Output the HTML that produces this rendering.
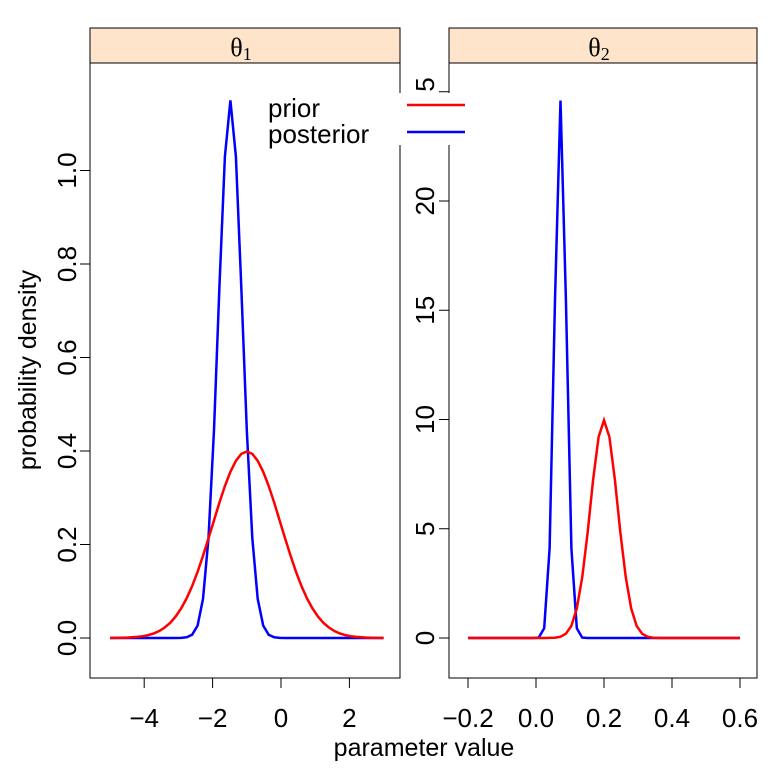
<!DOCTYPE html>
<html><head><meta charset="utf-8"><style>
body{margin:0;background:#fff}
svg{display:block;font-family:"Liberation Sans",sans-serif}
</style></head><body>
<svg id="chart" width="777" height="778" viewBox="0 0 777 778"></svg>
<script>
const leftX = [-5, 3];
const leftPrior = [0.0001,0.0003,0.0005,0.0008,0.0014,0.0024,0.0039,0.0063,0.0099,0.0150,0.0224,0.0325,0.0459,0.0632,0.0848,0.1109,0.1415,0.1758,0.2131,0.2516,0.2897,0.3251,0.3555,0.3790,0.3939,0.3989,0.3939,0.3790,0.3555,0.3251,0.2897,0.2516,0.2131,0.1758,0.1415,0.1109,0.0848,0.0632,0.0459,0.0325,0.0224,0.0150,0.0099,0.0063,0.0039,0.0024,0.0014,0.0008,0.0005,0.0003,0.0001];
const leftPost = [0,0,0,0,0,0,0,0,0,0,0,0,0,0.0002,0.0014,0.0068,0.0265,0.0836,0.214,0.445,0.750,1.03,1.15,1.03,0.750,0.445,0.214,0.0836,0.0265,0.0068,0.0014,0.0002,0,0,0,0,0,0,0,0,0,0,0,0,0,0,0,0,0,0,0];
const rightX = [-0.2, 0.6];
const rightPrior = [0,0,0,0,0,0,0,0,0,0,0,0,0,0,0,0.003,0.015,0.06,0.198,0.56,1.35,2.77,4.85,7.24,9.20,9.97,9.20,7.24,4.85,2.77,1.35,0.56,0.198,0.06,0.015,0.003,0,0,0,0,0,0,0,0,0,0,0,0,0,0,0];
const rightPost = [0,0,0,0,0,0,0,0,0,0,0,0,0,0.02,0.45,4.1,15.5,24.6,15.5,4.1,0.45,0.02,0,0,0,0,0,0,0,0,0,0,0,0,0,0,0,0,0,0,0,0,0,0,0,0,0,0,0,0,0];
const leftXTicks = [-4,-2,0,2];
const leftXLabels = ["\u22124","\u22122","0","2"];
const leftYTicks = [0,0.2,0.4,0.6,0.8,1.0];
const leftYLabels = ["0.0","0.2","0.4","0.6","0.8","1.0"];
const rightXTicks = [-0.2,0,0.2,0.4,0.6];
const rightXLabels = ["\u22120.2","0.0","0.2","0.4","0.6"];
const rightYTicks = [0,5,10,15,20,25];
const rightYLabels = ["0","5","10","15","20","25"];

const NS="http://www.w3.org/2000/svg";
const svg=document.getElementById('chart');
function mk(tag,attrs,parent){const e=document.createElementNS(NS,tag);for(const k in attrs)e.setAttribute(k,attrs[k]);(parent||svg).appendChild(e);return e;}

const BOT=678, TOP=63;
const lx=v=>281+34.2*v, ly=v=>638-467.5*v;
const rx=v=>536+340*v, ry=v=>638-21.85*v;

function panel(name,x0,x1,title,sx,sy,xr,prior,post,xt,xl,yt,yl,labX){
  const g=mk('g',{});
  
  
  const strip=mk('rect',{x:x0,y:28,width:x1-x0,height:35,fill:'#fde4cb',stroke:'#000','stroke-width':1},g);
  
  
  const t=mk('text',{x:(x0+x1)/2-4,y:56,'text-anchor':'middle','font-size':26,'font-family':'"Liberation Serif",serif'},g);
  
  
  t.innerHTML='θ<tspan font-size="18" dy="4">'+title+'</tspan>';
  const box=mk('rect',{x:x0,y:TOP,width:x1-x0,height:BOT-TOP,fill:'none',stroke:'#000','stroke-width':1},g);
  
  
  xt.forEach((v,i)=>{
    mk('line',{x1:sx(v),x2:sx(v),y1:BOT,y2:BOT+10,stroke:'#000'},g);
    const l=mk('text',{x:sx(v),y:727,'text-anchor':'middle','font-size':26},g);
    
    
    l.textContent=xl[i];
  });
  yt.forEach((v,i)=>{
    mk('line',{x1:x0-10,x2:x0,y1:sy(v),y2:sy(v),stroke:'#000'},g);
    const l=mk('text',{x:0,y:0,'text-anchor':'middle','font-size':26,transform:`translate(${labX},${sy(v)}) rotate(-90)`},g);
    
    
    l.textContent=yl[i];
  });
  const n=prior.length, step=(xr[1]-xr[0])/(n-1);
  const pts=a=>a.map((v,i)=>sx(xr[0]+i*step).toFixed(1)+','+sy(v).toFixed(1)).join(' ');
  const pl=mk('polyline',{points:pts(post),fill:'none',stroke:'#0000ff','stroke-width':2.5},g);
  
  
  const pr=mk('polyline',{points:pts(prior),fill:'none',stroke:'#ff0000','stroke-width':2.5},g);
  
  
}
panel('theta1',90,400,'1',lx,ly,leftX,leftPrior,leftPost,leftXTicks,leftXLabels,leftYTicks,leftYLabels,76);
panel('theta2',449,757,'2',rx,ry,rightX,rightPrior,rightPost,rightXTicks,rightXLabels,rightYTicks,rightYLabels,434);

const yt=mk('text',{x:0,y:0,'text-anchor':'middle','font-size':25,transform:'translate(36,370) rotate(-90)'});


yt.textContent='probability density';
const xt=mk('text',{x:424,y:756,'text-anchor':'middle','font-size':25});


xt.textContent='parameter value';

const lg=mk('g',{});


mk('rect',{x:262,y:93,width:206,height:52,fill:'#fff'},lg);
const t1=mk('text',{x:268,y:117,'font-size':26},lg);


t1.textContent='prior';
const t2=mk('text',{x:268,y:143,'font-size':26},lg);


t2.textContent='posterior';
const l1=mk('line',{x1:407,x2:465,y1:105,y2:105,stroke:'#ff0000','stroke-width':2.5},lg);


const l2=mk('line',{x1:407,x2:465,y1:132,y2:132,stroke:'#0000ff','stroke-width':2.5},lg);


</script>
</body></html>
